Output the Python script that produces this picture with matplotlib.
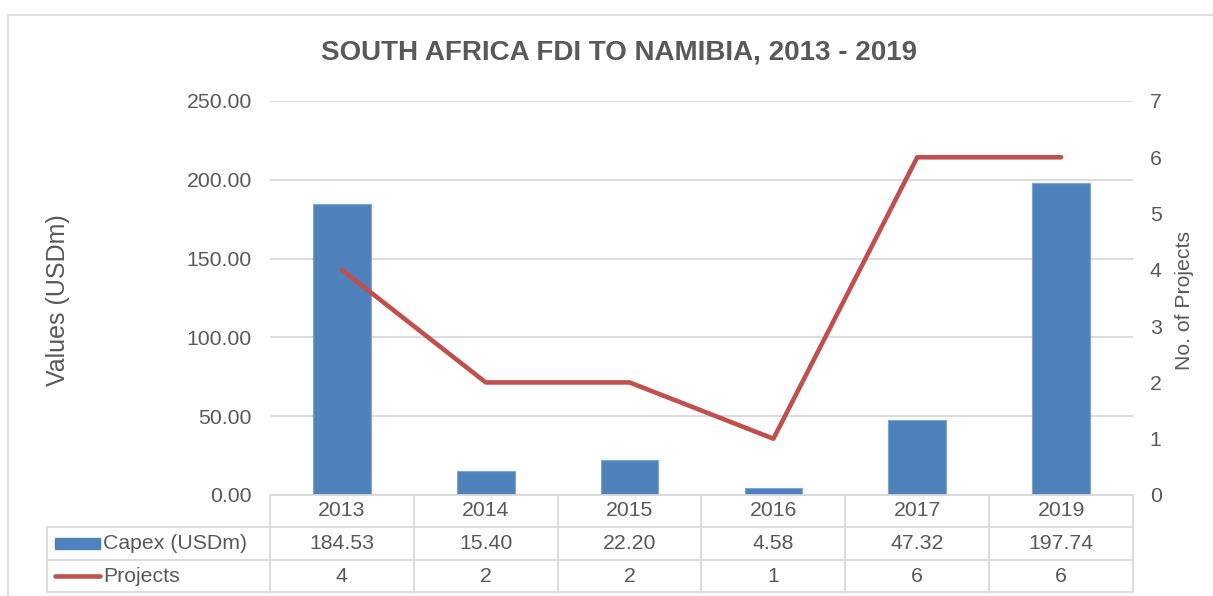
import matplotlib
matplotlib.use("Agg")
import matplotlib.pyplot as plt
from matplotlib.lines import Line2D
from matplotlib.patches import Rectangle
import matplotlib.transforms as mtransforms

plt.rcParams['font.family'] = ['Liberation Sans', 'DejaVu Sans']

years = ["2013", "2014", "2015", "2016", "2017", "2019"]
capex = [184.53, 15.40, 22.20, 4.58, 47.32, 197.74]
projects = [4, 2, 2, 1, 6, 6]
capex_labels = ["184.53", "15.40", "22.20", "4.58", "47.32", "197.74"]
project_labels = ["4", "2", "2", "1", "6", "6"]
left_ticks = [0, 50, 100, 150, 200, 250]
right_ticks = [0, 1, 2, 3, 4, 5, 6, 7]

W, H = 1213, 596
fig = plt.figure(figsize=(W / 100, H / 100), dpi=100)
TXT = "#595959"
GRID = "#D9D9D9"
BLUE = "#4F81BD"
RED = "#C0504D"
FS = 15.3

# outer chart border
fig.add_artist(Rectangle((8 / W, -0.1), 1.2, 1 - 15 / H + 0.1, transform=fig.transFigure,
                         fill=False, edgecolor=GRID, lw=1.2))

x0, x1, ytop, ybot = 270, 1133, 101, 495
ax = fig.add_axes([x0 / W, 1 - ybot / H, (x1 - x0) / W, (ybot - ytop) / H])
xs = list(range(len(years)))
ax.bar(xs, capex, width=0.4, color=BLUE, edgecolor="#7FA6D6", lw=0.8, zorder=2)
ax.set_xlim(-0.5, len(years) - 0.5)
ax.set_ylim(0, 250)
ax.set_yticks(left_ticks)
ax.set_yticklabels([f"{v:.2f}" for v in left_ticks])
ax.grid(axis='y', color=GRID, lw=1.3, zorder=0)
ax.set_axisbelow(True)
for s in ax.spines.values():
    s.set_visible(False)
ax.tick_params(axis='y', length=0, pad=13, labelsize=FS, labelcolor=TXT)
ax.set_xticks([])

ax2 = ax.twinx()
ax2.plot(xs, projects, color=RED, lw=3.3, solid_capstyle='round', zorder=3)
ax2.set_ylim(0, 7)
ax2.set_yticks(right_ticks)
ax2.tick_params(axis='y', length=0, pad=12, labelsize=FS, labelcolor=TXT)
for s in ax2.spines.values():
    s.set_visible(False)

fig.text(58 / W, 1 - 300 / H, "Values (USDm)", rotation=90, ha='center', va='center',
         fontsize=18, color=TXT)
fig.text(1185 / W, 1 - 300 / H, "No. of Projects", rotation=90, ha='center', va='center',
         fontsize=15.3, color=TXT)

fig.text(619 / W, 1 - 52 / H, "SOUTH AFRICA FDI TO NAMIBIA, 2013 - 2019",
         ha='center', va='center', fontsize=20, fontweight='bold', color=TXT)

# data table
ah = ybot - ytop
def fy(py):  # pixel y to axes fraction
    return (ybot - py) / ah
trans = mtransforms.blended_transform_factory(ax.transData, ax.transAxes)
rows = [495, 527, 560, 592]
lw = 1.3
for i, py in enumerate(rows):
    xl = 47 / W if i >= 1 else x0 / W
    fig.add_artist(Line2D([xl, x1 / W], [1 - py / H, 1 - py / H], transform=fig.transFigure,
                          color=GRID, lw=lw))
for k in range(len(years) + 1):
    ax.add_line(Line2D([k - 0.5, k - 0.5], [fy(rows[0]), fy(rows[-1])], transform=trans,
                       color=GRID, lw=lw, clip_on=False))
fig.add_artist(Line2D([47 / W, 47 / W], [1 - rows[1] / H, 1 - rows[-1] / H],
                      transform=fig.transFigure, color=GRID, lw=lw))

for i, y in enumerate(years):
    ax.text(i, fy((rows[0] + rows[1]) / 2), y, ha='center', va='center', fontsize=FS,
            color=TXT, transform=trans, clip_on=False)
    ax.text(i, fy((rows[1] + rows[2]) / 2), capex_labels[i], ha='center', va='center',
            fontsize=FS, color=TXT, transform=trans, clip_on=False)
    ax.text(i, fy((rows[2] + rows[3]) / 2), project_labels[i], ha='center', va='center',
            fontsize=FS, color=TXT, transform=trans, clip_on=False)

ym1 = 1 - (rows[1] + rows[2]) / 2 / H
ym2 = 1 - (rows[2] + rows[3]) / 2 / H
fig.add_artist(Rectangle((55 / W, ym1 - 5.5 / H), 45 / W, 11 / H, transform=fig.transFigure,
                         color=BLUE))
fig.add_artist(Line2D([55 / W, 100 / W], [ym2, ym2], transform=fig.transFigure, color=RED,
                      lw=3.3, solid_capstyle='round'))
fig.text(103 / W, ym1, "Capex (USDm)", ha='left', va='center', fontsize=FS, color=TXT)
fig.text(103 / W, ym2, "Projects", ha='left', va='center', fontsize=FS, color=TXT)

fig.savefig("out.png", dpi=100)
